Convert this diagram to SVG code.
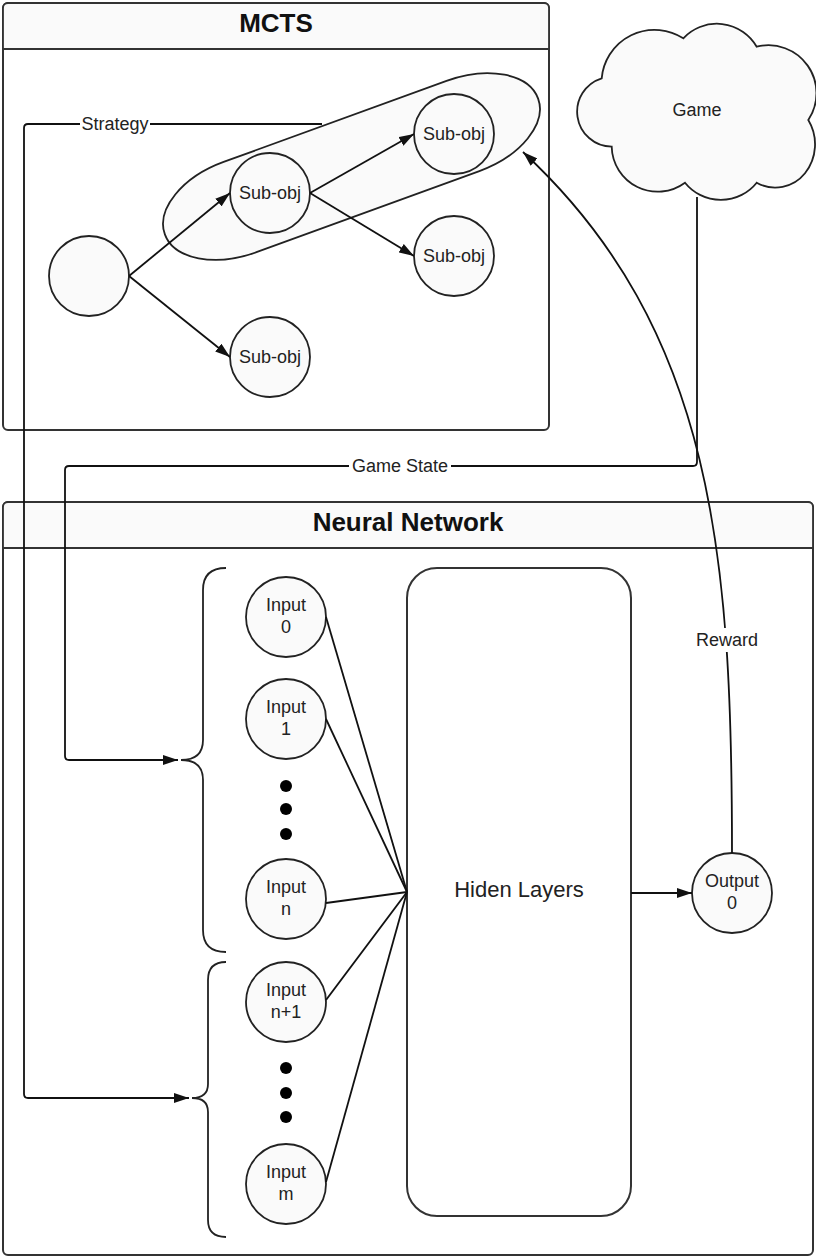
<svg xmlns="http://www.w3.org/2000/svg" width="816" height="1258" viewBox="0 0 816 1258">
  <defs>
    <marker id="arrow" viewBox="0 0 15 10" refX="15" refY="5" markerWidth="15" markerHeight="10" markerUnits="userSpaceOnUse" orient="auto">
      <path d="M0,0 L15,5 L0,10 z" fill="#111"/>
    </marker>
  </defs>
  <style>
    .box { fill: #ffffff; stroke: #333; stroke-width: 2; }
    .hdr { fill: #fafafa; stroke: #333; stroke-width: 1.8; }
    .title { font-family: "Liberation Sans", Arial, sans-serif; font-weight: bold; font-size: 26px; fill: #111; text-anchor: middle; }
    .node { fill: #fafafa; stroke: #222; stroke-width: 1.8; }
    .lbl { font-family: "Liberation Sans", Arial, sans-serif; font-size: 18px; fill: #222; text-anchor: middle; }
    .big { font-family: "Liberation Sans", Arial, sans-serif; font-size: 22px; fill: #222; text-anchor: middle; }
    .edge { fill: none; stroke: #111; stroke-width: 1.8; }
    .brace { fill: none; stroke: #222; stroke-width: 1.8; }
    .dot { fill: #000; }
    .bg { fill: #ffffff; }
  </style>

  <!-- Containers -->
  <g id="mcts">
    <rect class="box" x="3" y="3" width="546" height="427" rx="5"/>
    <path class="hdr" d="M8,3 H544 A5,5 0 0 1 549,8 V49 H3 V8 A5,5 0 0 1 8,3 z"/>
    <text class="title" x="276" y="32">MCTS</text>
  </g>
  <g id="neural-network">
    <rect class="box" x="3" y="502" width="810" height="753" rx="5"/>
    <path class="hdr" d="M8,502 H808 A5,5 0 0 1 813,507 V548 H3 V507 A5,5 0 0 1 8,502 z"/>
    <text class="title" x="408" y="531">Neural Network</text>
  </g>

  <!-- Game environment -->
  <g id="game">
    <path class="node" d="M601.7,78.3 A53,53 0 0 1 683.3,38.3 A46,46 0 0 1 756.7,46.7 A48,48 0 0 1 808.3,120 A47,47 0 0 1 805,173.3 A38,38 0 0 1 756.7,182.7 A46,46 0 0 1 685,182.7 A46,46 0 0 1 611.7,146.7 A35,35 0 0 1 601.7,78.3 z"/>
    <text class="lbl" x="697" y="116">Game</text>
  </g>

  <!-- Selected path through the search tree -->
  <g id="strategy-group">
    <rect class="node" x="-198.6" y="-48" width="397.2" height="96" rx="80" ry="48" transform="translate(351.5,166.5) rotate(-20)"/>
  </g>

  <!-- Search tree nodes -->
  <g id="root">
    <circle class="node" cx="89" cy="276" r="40"/>
  </g>
  <g id="sub-obj-1">
    <circle class="node" cx="270" cy="193" r="40"/>
    <text class="lbl" x="270" y="199">Sub-obj</text>
  </g>
  <g id="sub-obj-2">
    <circle class="node" cx="454" cy="134" r="40"/>
    <text class="lbl" x="454" y="140">Sub-obj</text>
  </g>
  <g id="sub-obj-3">
    <circle class="node" cx="454" cy="256" r="40"/>
    <text class="lbl" x="454" y="262">Sub-obj</text>
  </g>
  <g id="sub-obj-4">
    <circle class="node" cx="270" cy="357" r="40"/>
    <text class="lbl" x="270" y="363">Sub-obj</text>
  </g>

  <!-- Input layer -->
  <g id="input-0">
    <circle class="node" cx="286" cy="617" r="40"/>
    <text class="lbl" x="286" y="611">Input</text>
    <text class="lbl" x="286" y="633">0</text>
  </g>
  <g id="input-1">
    <circle class="node" cx="286" cy="719" r="40"/>
    <text class="lbl" x="286" y="713">Input</text>
    <text class="lbl" x="286" y="735">1</text>
  </g>
  <g id="ellipsis-1">
    <circle class="dot" cx="286" cy="786" r="6"/>
    <circle class="dot" cx="286" cy="809" r="6"/>
    <circle class="dot" cx="286" cy="834" r="6"/>
  </g>
  <g id="input-n">
    <circle class="node" cx="286" cy="899" r="40"/>
    <text class="lbl" x="286" y="893">Input</text>
    <text class="lbl" x="286" y="915">n</text>
  </g>
  <g id="input-n1">
    <circle class="node" cx="286" cy="1002" r="40"/>
    <text class="lbl" x="286" y="996">Input</text>
    <text class="lbl" x="286" y="1018">n+1</text>
  </g>
  <g id="ellipsis-2">
    <circle class="dot" cx="286" cy="1068" r="6"/>
    <circle class="dot" cx="286" cy="1093" r="6"/>
    <circle class="dot" cx="286" cy="1117" r="6"/>
  </g>
  <g id="input-m">
    <circle class="node" cx="286" cy="1184" r="40"/>
    <text class="lbl" x="286" y="1178">Input</text>
    <text class="lbl" x="286" y="1200">m</text>
  </g>

  <!-- Input groupings -->
  <g id="brace-state">
    <path class="brace" d="M226,568 Q203,568 203,590 L203,740 Q203,760 181,760 Q203,760 203,780 L203,930 Q203,952 226,952"/>
  </g>
  <g id="brace-strategy">
    <path class="brace" d="M226,962 Q208,962 208,980 L208,1084 Q208,1098 192,1098 Q208,1098 208,1112 L208,1220 Q208,1237 226,1237"/>
  </g>

  <!-- Hidden layers and output -->
  <g id="hidden-layers">
    <rect class="box" x="407" y="568" width="224" height="648" rx="30" stroke-width="1.8"/>
    <text class="big" x="519" y="897">Hiden Layers</text>
  </g>
  <g id="output-0">
    <circle class="node" cx="732" cy="893" r="40"/>
    <text class="lbl" x="732" y="887">Output</text>
    <text class="lbl" x="732" y="909">0</text>
  </g>

  <!-- Connectors -->
  <g id="connectors">
    <path class="edge" d="M129,276 L230,193" marker-end="url(#arrow)"/>
    <path class="edge" d="M129,276 L230,357" marker-end="url(#arrow)"/>
    <path class="edge" d="M310,193 L414,134" marker-end="url(#arrow)"/>
    <path class="edge" d="M310,193 L414,256" marker-end="url(#arrow)"/>

    <path class="edge" d="M326,617 L407,892"/>
    <path class="edge" d="M326,719 L407,892"/>
    <path class="edge" d="M326,903 L407,892"/>
    <path class="edge" d="M326,1000 L407,892"/>
    <path class="edge" d="M326,1182 L407,892"/>

    <path class="edge" d="M631,893 L692,893" marker-end="url(#arrow)"/>

    <!-- Strategy: search group to lower input brace -->
    <path class="edge" d="M322,124 L28,124 Q24,124 24,128 L24,1094 Q24,1098 28,1098 L189,1098" marker-end="url(#arrow)"/>
    <rect class="bg" x="80" y="114" width="70" height="20"/>
    <text class="lbl" x="115" y="130">Strategy</text>

    <!-- Game State: game to upper input brace -->
    <path class="edge" d="M697,197 L697,462 Q697,466 693,466 L69,466 Q65,466 65,470 L65,756 Q65,760 69,760 L178,760" marker-end="url(#arrow)"/>
    <rect class="bg" x="349" y="456" width="102" height="20"/>
    <text class="lbl" x="400" y="472">Game State</text>

    <!-- Reward: output back to search group -->
    <path class="edge" d="M732,853 C732,560 715,330 523,152" marker-end="url(#arrow)"/>
    <rect class="bg" x="694" y="628" width="66" height="24"/>
    <text class="lbl" x="727" y="646">Reward</text>
  </g>
</svg>
